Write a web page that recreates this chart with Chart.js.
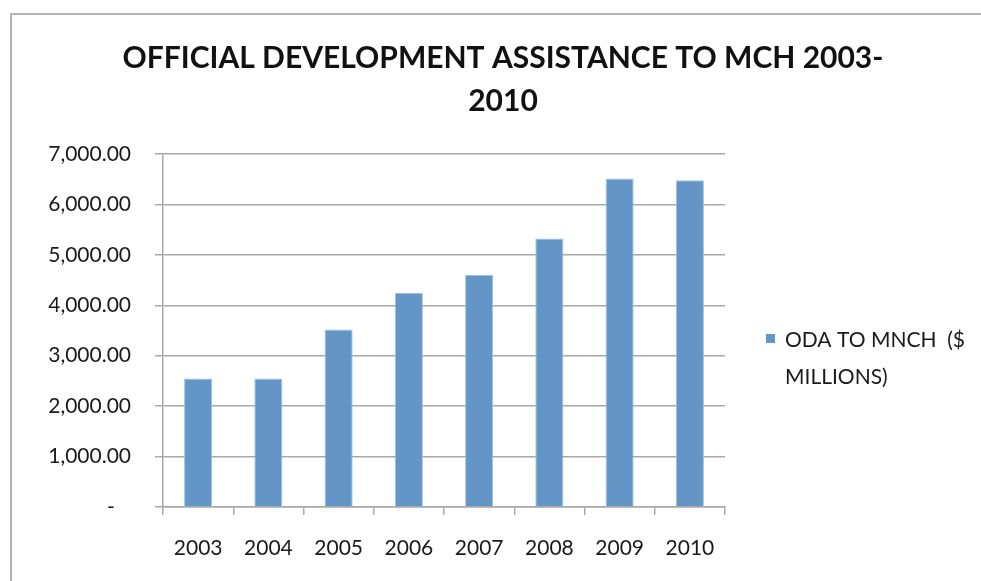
<!DOCTYPE html>
<html>
<head>
<meta charset="utf-8">
<script src="https://cdn.jsdelivr.net/npm/chart.js@4"></script>
<style>
  html, body { margin: 0; padding: 0; background: #fff; overflow: hidden; }
  #frame {
    position: absolute; left: 10px; top: 13px; width: 1000px; height: 600px;
    border-top: 2px solid #b4b4b4; border-left: 2px solid #b4b4b4;
  }
  #wrap { position: absolute; left: 0; top: 0; width: 981px; height: 581px; }
</style>
</head>
<body>
<div id="frame"></div>
<div id="wrap"><canvas id="myChart"></canvas></div>
<script>
var years = ["2003", "2004", "2005", "2006", "2007", "2008", "2009", "2010"];
var odaValues = [2550, 2550, 3520, 4245, 4600, 5325, 6515, 6480];
var seriesLabel = ["ODA TO MNCH  ($", "MILLIONS)"];
var titleLines = ["OFFICIAL DEVELOPMENT ASSISTANCE TO MCH 2003-", "2010"];

var gridGray = "#a8a8a8";
var barBlue = "#6395c6";
var font = "Lato";

// title and legend drawn by hand: title is centred on the whole frame,
// and the legend label wraps on two lines like the original
var sideText = {
  id: "sideText",
  afterDraw: function (chart) {
    var c = chart.ctx;
    c.save();
    c.fillStyle = "#111";
    c.font = "bold 30px " + font;
    c.textAlign = "center";
    c.textBaseline = "middle";
    c.fillText(titleLines[0], 503, 58);
    c.fillText(titleLines[1], 503, 101);

    c.fillStyle = barBlue;
    c.fillRect(766, 334, 9, 9);
    c.fillStyle = "#1a1a1a";
    c.font = "21px " + font;
    c.textAlign = "left";
    c.fillText(seriesLabel[0], 785, 340);
    c.fillText(seriesLabel[1], 785, 377);
    c.restore();
  }
};

var ctx = document.getElementById("myChart").getContext("2d");
var myChart = new Chart(ctx, {
  type: "bar",
  data: {
    labels: years,
    datasets: [
      {
        label: seriesLabel.join(" "),
        data: odaValues,
        backgroundColor: barBlue,
        borderColor: "#9cc2e3",
        borderWidth: 1,
        barPercentage: 0.4,
        categoryPercentage: 1.0,
      },
    ],
  },
  options: {
    responsive: true,
    maintainAspectRatio: false,
    animation: false,
    layout: { padding: { left: 0, right: 256, top: 154, bottom: 0 } },
    plugins: {
      legend: { display: false },
      tooltip: { enabled: false },
      title: { display: false },
    },
    scales: {
      x: {
        grid: {
          drawOnChartArea: false,
          drawTicks: true,
          tickLength: 8,
          color: gridGray,
          lineWidth: 1.5,
        },
        border: { display: true, color: gridGray, width: 1.5 },
        ticks: { color: "#1a1a1a", font: { family: font, size: 21 }, padding: 21 },
        afterFit: function (scale) { scale.height = 74; },
      },
      y: {
        min: 0,
        max: 7000,
        ticks: {
          stepSize: 1000,
          color: "#1a1a1a",
          padding: 24,
          font: { family: font, size: 21 },
          callback: function (v) {
            if (v === 0) return "-   ";
            return v.toLocaleString("en-US", { minimumFractionDigits: 2, maximumFractionDigits: 2 });
          },
        },
        grid: { color: gridGray, lineWidth: 1.5, tickLength: 8 },
        border: { display: true, color: gridGray, width: 1.5 },
        afterFit: function (scale) { scale.width = 163; },
      },
    },
  },
  plugins: [sideText],
});
</script>
</body>
</html>
